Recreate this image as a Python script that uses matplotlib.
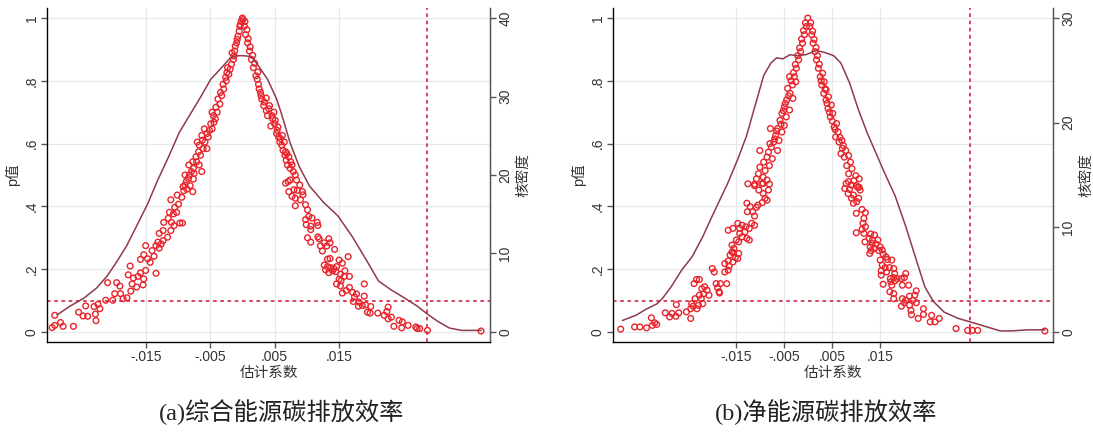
import numpy as np
import matplotlib.pyplot as plt

plt.rcParams['font.family'] = ['Liberation Sans', 'Noto Sans CJK SC']

# panel (a): estimated coefficient / p value of each placebo draw
a_points = [
    # lower left branch
    (-0.0291, 0.053), (-0.0295, 0.014), (-0.0291, 0.021), (-0.0282, 0.030), (-0.0278, 0.018),
    (-0.0262, 0.018), (-0.0254, 0.063), (-0.0247, 0.051), (-0.0243, 0.083), (-0.0240, 0.050),
    (-0.0230, 0.081), (-0.0228, 0.057), (-0.0227, 0.036), (-0.0224, 0.088), (-0.0221, 0.074),
    (-0.0212, 0.101), (-0.0209, 0.157), (-0.0201, 0.101), (-0.0198, 0.122), (-0.0195, 0.157),
    (-0.0190, 0.146), (-0.0189, 0.122), (-0.0185, 0.106), (-0.0179, 0.109), (-0.0177, 0.182),
    (-0.0174, 0.210), (-0.0173, 0.130), (-0.0171, 0.153), (-0.0169, 0.172), (-0.0164, 0.143),
    (-0.0162, 0.177), (-0.0158, 0.188), (-0.0154, 0.150), (-0.0153, 0.169), (-0.0150, 0.196),
    (-0.0158, 0.231), (-0.0153, 0.246), (-0.0150, 0.275), (-0.0147, 0.233), (-0.0143, 0.222),
    (-0.0140, 0.259), (-0.0137, 0.241), (-0.0134, 0.187), (-0.0134, 0.275), (-0.0131, 0.286),
    (-0.0129, 0.267), (-0.0126, 0.280), (-0.0123, 0.291), (-0.0129, 0.314), (-0.0122, 0.349),
    (-0.0123, 0.323), (-0.0116, 0.302), (-0.0115, 0.362), (-0.0111, 0.323), (-0.0110, 0.349),
    (-0.0113, 0.381), (-0.0107, 0.376), (-0.0106, 0.339), (-0.0105, 0.397), (-0.0111, 0.421),
    (-0.0102, 0.381), (-0.0099, 0.407), (-0.0097, 0.347), (-0.0093, 0.347), (-0.0101, 0.436),
    (-0.0094, 0.429), (-0.0091, 0.450), (-0.0089, 0.468), (-0.0086, 0.455), (-0.0081, 0.466),
    (-0.0077, 0.447), (-0.0076, 0.487),
    # upper left branch
    (-0.0002, 0.989), (-0.0003, 0.979), (-0.0004, 0.974), (-0.0005, 0.958), (-0.0007, 0.942),
    (-0.0008, 0.932), (-0.0009, 0.921), (-0.0011, 0.911), (-0.0012, 0.895), (-0.0016, 0.889),
    (-0.0013, 0.879), (-0.0014, 0.868), (-0.0017, 0.853), (-0.0023, 0.842), (-0.0019, 0.837),
    (-0.0024, 0.826), (-0.0021, 0.821), (-0.0026, 0.811), (-0.0025, 0.800), (-0.0030, 0.789),
    (-0.0029, 0.774), (-0.0034, 0.763), (-0.0032, 0.753), (-0.0038, 0.742), (-0.0035, 0.726),
    (-0.0041, 0.716), (-0.0039, 0.700), (-0.0047, 0.700), (-0.0045, 0.689), (-0.0042, 0.679),
    (-0.0044, 0.668), (-0.0049, 0.663), (-0.0047, 0.647), (-0.0059, 0.647), (-0.0051, 0.642),
    (-0.0055, 0.632), (-0.0063, 0.626), (-0.0053, 0.621), (-0.0062, 0.611), (-0.0058, 0.605),
    (-0.0070, 0.605), (-0.0067, 0.595), (-0.0061, 0.584), (-0.0055, 0.584), (-0.0068, 0.574),
    (-0.0065, 0.563), (-0.0072, 0.558), (-0.0071, 0.542), (-0.0077, 0.542), (-0.0083, 0.532),
    (-0.0067, 0.532), (-0.0076, 0.521), (-0.0079, 0.511), (-0.0063, 0.511), (-0.0075, 0.505),
    (-0.0082, 0.500), (-0.0089, 0.500), (-0.0084, 0.489), (-0.0087, 0.479), (-0.0092, 0.463),
    # peak and upper right branch
    (0.0000, 1.000), (0.0001, 0.995),
    (0.0003, 0.974), (0.0004, 0.989), (0.0005, 0.947), (0.0007, 0.963), (0.0008, 0.921),
    (0.0009, 0.934), (0.0011, 0.895), (0.0012, 0.908), (0.0014, 0.868), (0.0016, 0.881),
    (0.0017, 0.842), (0.0019, 0.856), (0.0021, 0.816), (0.0023, 0.805), (0.0024, 0.828),
    (0.0025, 0.789), (0.0026, 0.774), (0.0028, 0.763), (0.0029, 0.753), (0.0030, 0.742),
    (0.0034, 0.732), (0.0033, 0.721), (0.0037, 0.745), (0.0037, 0.705), (0.0041, 0.711),
    (0.0039, 0.689), (0.0042, 0.721), (0.0046, 0.689), (0.0044, 0.656), (0.0047, 0.679),
    (0.0049, 0.700), (0.0050, 0.663), (0.0051, 0.674), (0.0053, 0.632), (0.0054, 0.642),
    (0.0055, 0.653), (0.0056, 0.621), (0.0058, 0.605), (0.0059, 0.616), (0.0061, 0.595),
    (0.0062, 0.626), (0.0063, 0.579), (0.0065, 0.605), (0.0066, 0.563), (0.0067, 0.574),
    (0.0068, 0.547), (0.0069, 0.568), (0.0070, 0.532), (0.0072, 0.558), (0.0074, 0.521),
    (0.0075, 0.542), (0.0077, 0.532), (0.0079, 0.511), (0.0082, 0.500), (0.0071, 0.479),
    (0.0084, 0.484), (0.0089, 0.468),
    # lower right branch
    (0.0067, 0.474), (0.0074, 0.484), (0.0072, 0.447), (0.0080, 0.453), (0.0085, 0.451),
    (0.0093, 0.447), (0.0094, 0.437), (0.0077, 0.432), (0.0082, 0.426), (0.0090, 0.421),
    (0.0082, 0.402), (0.0098, 0.405), (0.0101, 0.389), (0.0098, 0.358), (0.0103, 0.368),
    (0.0108, 0.363), (0.0099, 0.342), (0.0106, 0.337), (0.0116, 0.349), (0.0117, 0.339),
    (0.0106, 0.326), (0.0101, 0.300), (0.0106, 0.286), (0.0117, 0.303), (0.0119, 0.297),
    (0.0127, 0.284), (0.0134, 0.297), (0.0136, 0.284), (0.0121, 0.274), (0.0131, 0.274),
    (0.0124, 0.258), (0.0143, 0.263), (0.0132, 0.232), (0.0136, 0.234), (0.0150, 0.229),
    (0.0164, 0.240), (0.0127, 0.213), (0.0132, 0.208), (0.0137, 0.205), (0.0142, 0.202),
    (0.0146, 0.208), (0.0155, 0.219), (0.0129, 0.198), (0.0134, 0.189), (0.0140, 0.195),
    (0.0145, 0.192), (0.0159, 0.195), (0.0152, 0.184), (0.0158, 0.177), (0.0166, 0.177),
    (0.0150, 0.168), (0.0153, 0.163), (0.0146, 0.153), (0.0152, 0.147), (0.0166, 0.142),
    (0.0161, 0.132), (0.0155, 0.124), (0.0189, 0.153), (0.0171, 0.126), (0.0177, 0.121),
    (0.0174, 0.111), (0.0189, 0.114), (0.0181, 0.095), (0.0186, 0.084), (0.0172, 0.097),
    (0.0180, 0.082), (0.0191, 0.086), (0.0199, 0.081), (0.0194, 0.063), (0.0198, 0.060),
    (0.0210, 0.060), (0.0226, 0.079), (0.0224, 0.065), (0.0220, 0.053), (0.0231, 0.047),
    (0.0226, 0.042), (0.0243, 0.037), (0.0248, 0.032), (0.0235, 0.018), (0.0247, 0.013),
    (0.0257, 0.021), (0.0269, 0.016), (0.0271, 0.011), (0.0275, 0.011), (0.0287, 0.005),
    (0.0370, 0.003),
]
a_kde_x = [-0.0287, -0.0267, -0.0246, -0.0226, -0.0210, -0.0196, -0.0180, -0.0164, -0.0147,
           -0.0131, -0.0114, -0.0098, -0.0079, -0.0065, -0.0049, -0.0032, -0.0019, -0.0010,
           0.0001, 0.0014, 0.0025, 0.0039, 0.0053, 0.0061, 0.0074, 0.0088, 0.0104, 0.0126,
           0.0148, 0.0170, 0.0192, 0.0211, 0.0230, 0.0252, 0.0271, 0.0285, 0.0302, 0.0321,
           0.0340, 0.0370]
a_kde_y = [2.2, 3.3, 4.3, 5.6, 7.1, 8.8, 10.9, 13.5, 16.3, 19.4, 22.4, 25.4, 28.0, 29.9, 32.2,
           33.7, 34.9, 35.2, 35.2, 35.1, 33.9, 32.2, 29.7, 27.7, 24.1, 21.1, 18.6, 16.5, 14.8,
           12.2, 9.2, 6.5, 5.4, 4.3, 3.3, 2.4, 1.4, 0.5, 0.2, 0.2]
a_true = 0.0286
a_xlim = (-0.0303, 0.0384)
a_dens_max = 40

# panel (b)
b_points = [
    # lower left branch
    (-0.0391, 0.009), (-0.0362, 0.016), (-0.0351, 0.016), (-0.0337, 0.013), (-0.0327, 0.045),
    (-0.0325, 0.021), (-0.0320, 0.029), (-0.0316, 0.024), (-0.0298, 0.061), (-0.0289, 0.048),
    (-0.0284, 0.059), (-0.0276, 0.050), (-0.0275, 0.087), (-0.0270, 0.061), (-0.0254, 0.064),
    (-0.0245, 0.043), (-0.0245, 0.074), (-0.0243, 0.090), (-0.0240, 0.082), (-0.0236, 0.106),
    (-0.0232, 0.074), (-0.0229, 0.085), (-0.0227, 0.117), (-0.0223, 0.106), (-0.0220, 0.090),
    (-0.0238, 0.154), (-0.0233, 0.167), (-0.0227, 0.167), (-0.0222, 0.138), (-0.0216, 0.144),
    (-0.0211, 0.133), (-0.0218, 0.122), (-0.0207, 0.117), (-0.0200, 0.202), (-0.0196, 0.191),
    (-0.0192, 0.154), (-0.0189, 0.141), (-0.0186, 0.128), (-0.0185, 0.124), (-0.0183, 0.154),
    (-0.0170, 0.154), (-0.0174, 0.191), (-0.0167, 0.197), (-0.0165, 0.210), (-0.0174, 0.218),
    (-0.0167, 0.226), (-0.0163, 0.245), (-0.0159, 0.255), (-0.0157, 0.223), (-0.0152, 0.237),
    (-0.0147, 0.234), (-0.0145, 0.250), (-0.0156, 0.252), (-0.0159, 0.277), (-0.0155, 0.266),
    (-0.0150, 0.293), (-0.0145, 0.287), (-0.0167, 0.324), (-0.0157, 0.330), (-0.0147, 0.346),
    (-0.0143, 0.330), (-0.0138, 0.340), (-0.0143, 0.314), (-0.0138, 0.303), (-0.0132, 0.319),
    (-0.0128, 0.298), (-0.0123, 0.293), (-0.0130, 0.335), (-0.0123, 0.330), (-0.0118, 0.346),
    (-0.0112, 0.340), (-0.0127, 0.383), (-0.0121, 0.399), (-0.0128, 0.410), (-0.0116, 0.383),
    (-0.0112, 0.369), (-0.0108, 0.397), (-0.0105, 0.404), (-0.0096, 0.412), (-0.0112, 0.471),
    (-0.0103, 0.452), (-0.0094, 0.441), (-0.0090, 0.426), (-0.0086, 0.420), (-0.0083, 0.452),
    (-0.0094, 0.473), (-0.0086, 0.484), (-0.0081, 0.471),
    # upper left branch
    (-0.0001, 1.000), (-0.0004, 0.973), (-0.0008, 0.947), (-0.0012, 0.920), (-0.0016, 0.893),
    (-0.0020, 0.867), (-0.0025, 0.840), (-0.0029, 0.813), (-0.0033, 0.787), (-0.0026, 0.797),
    (-0.0039, 0.813), (-0.0038, 0.760), (-0.0043, 0.776), (-0.0045, 0.739), (-0.0032, 0.744),
    (-0.0050, 0.717), (-0.0039, 0.707), (-0.0055, 0.696), (-0.0046, 0.685), (-0.0059, 0.674),
    (-0.0050, 0.658), (-0.0064, 0.648), (-0.0079, 0.648), (-0.0055, 0.637), (-0.0068, 0.626),
    (-0.0061, 0.610), (-0.0072, 0.605), (-0.0077, 0.589), (-0.0064, 0.578), (-0.0083, 0.573),
    (-0.0101, 0.578), (-0.0086, 0.557), (-0.0075, 0.552), (-0.0093, 0.541), (-0.0081, 0.530),
    (-0.0101, 0.525), (-0.0090, 0.514), (-0.0104, 0.504), (-0.0094, 0.493), (-0.0108, 0.488),
    (-0.0126, 0.472), (-0.0097, 0.472), (-0.0112, 0.466),
    (-0.0006, 0.985), (-0.0010, 0.960), (-0.0014, 0.933), (-0.0018, 0.905), (-0.0022, 0.880),
    (-0.0027, 0.852), (-0.0031, 0.826), (-0.0036, 0.800), (-0.0041, 0.752), (-0.0048, 0.728),
    (-0.0052, 0.705), (-0.0057, 0.662), (-0.0066, 0.640), (-0.0070, 0.615), (-0.0080, 0.600),
    # upper right branch
    (0.0003, 0.973), (0.0007, 0.947), (0.0010, 0.920), (0.0014, 0.893), (0.0017, 0.867),
    (0.0021, 0.840), (0.0025, 0.813), (0.0030, 0.824), (0.0028, 0.787), (0.0033, 0.797),
    (0.0032, 0.760), (0.0037, 0.771), (0.0037, 0.739), (0.0042, 0.749), (0.0041, 0.712),
    (0.0048, 0.723), (0.0046, 0.685), (0.0051, 0.696), (0.0054, 0.653), (0.0059, 0.664),
    (0.0062, 0.637), (0.0057, 0.621), (0.0064, 0.605), (0.0070, 0.610), (0.0073, 0.594),
    (0.0078, 0.578), (0.0068, 0.568), (0.0075, 0.557), (0.0084, 0.562), (0.0088, 0.541),
    (0.0080, 0.530), (0.0091, 0.520), (0.0084, 0.504), (0.0099, 0.498), (0.0095, 0.482),
    (0.0106, 0.488), (0.0100, 0.466), (0.0106, 0.461),
    (0.0005, 0.985), (0.0009, 0.958), (0.0012, 0.932), (0.0016, 0.906), (0.0019, 0.880),
    (0.0023, 0.853), (0.0027, 0.800), (0.0035, 0.775), (0.0039, 0.728), (0.0044, 0.700),
    (0.0050, 0.672), (0.0056, 0.645), (0.0066, 0.620), (0.0071, 0.585),
    # lower right branch
    (0.0079, 0.473), (0.0084, 0.479), (0.0090, 0.468), (0.0076, 0.457), (0.0086, 0.454),
    (0.0103, 0.461), (0.0108, 0.452), (0.0083, 0.441), (0.0094, 0.436), (0.0105, 0.426),
    (0.0090, 0.426), (0.0094, 0.410), (0.0101, 0.415), (0.0100, 0.378), (0.0112, 0.390),
    (0.0119, 0.380), (0.0116, 0.362), (0.0114, 0.346), (0.0119, 0.335), (0.0112, 0.327),
    (0.0100, 0.316), (0.0116, 0.314), (0.0130, 0.312), (0.0138, 0.309), (0.0127, 0.298),
    (0.0134, 0.293), (0.0145, 0.293), (0.0118, 0.287), (0.0133, 0.282), (0.0141, 0.280),
    (0.0129, 0.271), (0.0138, 0.266), (0.0150, 0.271), (0.0131, 0.259), (0.0147, 0.259),
    (0.0154, 0.261), (0.0128, 0.250), (0.0156, 0.248), (0.0162, 0.239), (0.0150, 0.229),
    (0.0165, 0.231), (0.0174, 0.229), (0.0154, 0.213), (0.0160, 0.205), (0.0169, 0.205),
    (0.0178, 0.202), (0.0152, 0.195), (0.0163, 0.191), (0.0180, 0.186), (0.0203, 0.186),
    (0.0152, 0.181), (0.0171, 0.170), (0.0178, 0.173), (0.0185, 0.170), (0.0194, 0.170),
    (0.0200, 0.173), (0.0172, 0.160), (0.0181, 0.163), (0.0156, 0.152), (0.0174, 0.149),
    (0.0196, 0.149), (0.0209, 0.149), (0.0170, 0.128), (0.0178, 0.122), (0.0225, 0.131),
    (0.0178, 0.106), (0.0196, 0.106), (0.0211, 0.114), (0.0222, 0.117), (0.0203, 0.101),
    (0.0218, 0.101), (0.0200, 0.093), (0.0194, 0.082), (0.0211, 0.085), (0.0225, 0.093),
    (0.0214, 0.069), (0.0240, 0.074), (0.0215, 0.055), (0.0229, 0.043), (0.0240, 0.056),
    (0.0257, 0.053), (0.0273, 0.043), (0.0254, 0.032), (0.0264, 0.032), (0.0308, 0.011),
    (0.0332, 0.005), (0.0342, 0.005), (0.0353, 0.005), (0.0493, 0.003),
]
b_kde_x = [-0.0387, -0.0359, -0.0337, -0.0315, -0.0304, -0.0286, -0.0264, -0.0242, -0.0220,
           -0.0199, -0.0169, -0.0147, -0.0129, -0.0111, -0.0093, -0.0078, -0.0066, -0.0053,
           -0.0038, -0.0023, -0.0005, 0.0017, 0.0035, 0.0053, 0.0068, 0.0086, 0.0104, 0.0123,
           0.0141, 0.0159, 0.0181, 0.0203, 0.0225, 0.0243, 0.0261, 0.0283, 0.0312, 0.0342,
           0.0371, 0.0400, 0.0422, 0.0458, 0.0493]
b_kde_y = [1.1, 1.6, 2.2, 2.7, 3.2, 4.3, 5.9, 7.2, 9.1, 11.2, 14.1, 16.5, 18.7, 21.6, 24.5,
           25.7, 26.2, 26.1, 26.5, 26.4, 26.5, 26.9, 26.7, 26.4, 25.7, 23.8, 21.3, 19.0, 17.1,
           15.2, 13.0, 10.1, 6.9, 4.3, 2.9, 1.9, 1.3, 0.9, 0.5, 0.1, 0.1, 0.2, 0.2]
b_true = 0.0338
b_xlim = (-0.0407, 0.0510)
b_dens_max = 30

x_ticks = [-0.015, -0.005, 0.005, 0.015]
x_tick_labels = ['-.015', '-.005', '.005', '.015']
p_ticks = [0, 0.2, 0.4, 0.6, 0.8, 1]
p_tick_labels = ['0', '.2', '.4', '.6', '.8', '1']
captions = ['(a)综合能源碳排放效率', '(b)净能源碳排放效率']

W, H = 1093, 432
fig = plt.figure(figsize=(W / 100, H / 100), dpi=100)
fig.patch.set_facecolor('white')

P_LO, P_HI = -0.032, 1.032


def draw_panel(left_px, right_px, pts, kx, ky, true_x, xlim, dmax, caption, cap_x):
    ax = fig.add_axes([left_px / W, (H - 342) / H, (right_px - left_px) / W, 334 / H])
    pts = np.array(pts)
    ax.scatter(pts[:, 0], pts[:, 1], s=17, facecolors='none', edgecolors='#e8242c',
               linewidths=1.0, zorder=3)
    ax.axhline(0.1, color='#d63450', lw=1.3, ls=(0, (2, 2)), zorder=2)
    ax.axvline(true_x, color='#d63450', lw=1.3, ls=(0, (2, 2)), zorder=2)
    ax.set_xlim(xlim)
    ax.set_ylim(P_LO, P_HI)
    ax.set_xticks(x_ticks)
    ax.set_xticklabels(x_tick_labels, fontsize=10, color='#333333')
    ax.set_yticks(p_ticks)
    ax.set_yticklabels(p_tick_labels, fontsize=10, color='#333333', rotation=90, va='center')
    ax.grid(True, color='#e4eaec', lw=0.9)
    ax.set_axisbelow(True)
    ax.spines['top'].set_visible(False)
    for s in ['left', 'right', 'bottom']:
        ax.spines[s].set_color('#555555')
        ax.spines[s].set_linewidth(1.0)
    ax.tick_params(length=4, width=1.0, color='#555555', pad=2)
    ax.set_xlabel('估计系数', fontsize=10.5, color='#333333', labelpad=1)
    ax.set_ylabel('p值', fontsize=10.5, color='#333333', labelpad=3)

    ax2 = ax.twinx()
    ax2.plot(kx, ky, color='#8e3a4c', lw=1.1, zorder=4)
    ax2.set_ylim(P_LO * dmax, P_HI * dmax)
    ax2.set_yticks(range(0, dmax + 1, 10))
    ax2.set_yticklabels([str(v) for v in range(0, dmax + 1, 10)], fontsize=10,
                        color='#333333', rotation=90, va='center')
    ax2.spines['top'].set_visible(False)
    ax2.spines['right'].set_color('#555555')
    ax2.tick_params(length=4, width=1.0, color='#555555', pad=2)
    ax2.set_ylabel('核密度', fontsize=10.5, color='#333333', labelpad=3)

    fig.text(cap_x / W, 1 - 412 / H, caption, ha='center', va='center', fontsize=17.5,
             family=['Liberation Serif', 'Noto Sans CJK SC'], color='#222222')


draw_panel(47, 490, a_points, a_kde_x, a_kde_y, a_true, a_xlim, a_dens_max, captions[0], 282)
draw_panel(613, 1053, b_points, b_kde_x, b_kde_y, b_true, b_xlim, b_dens_max, captions[1], 826)

plt.savefig('out.png', dpi=100)
